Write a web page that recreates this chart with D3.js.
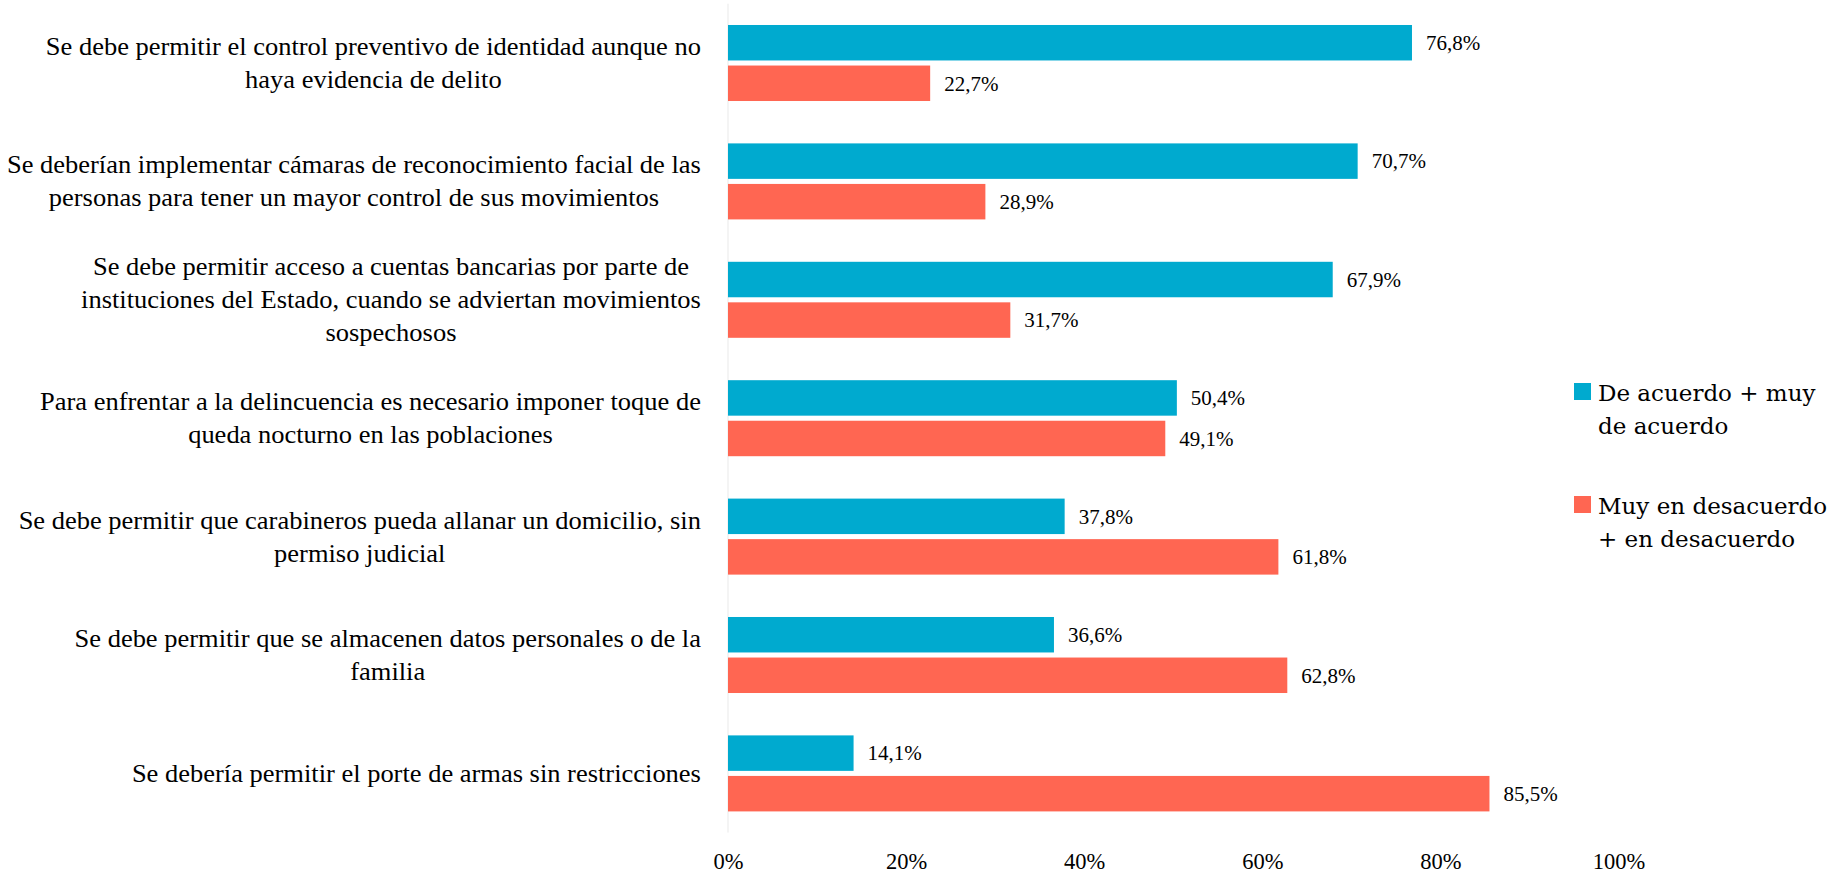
<!DOCTYPE html>
<html>
<head>
<meta charset="utf-8">
<script src="https://cdn.jsdelivr.net/npm/d3@7"></script>
<style>
  html, body { margin: 0; padding: 0; background: #fff; }
  svg { display: block; }
</style>
</head>
<body>
<svg id="chart" width="1835" height="874"></svg>
<script>
// Statement labels, one array entry per printed line
const categories = [
  ["Se debe permitir el control preventivo de identidad aunque no", "haya evidencia de delito"],
  ["Se deberían implementar cámaras de reconocimiento facial de las", "personas para tener un mayor control de sus movimientos"],
  ["Se debe permitir acceso a cuentas bancarias por parte de", "instituciones del Estado, cuando se adviertan movimientos", "sospechosos"],
  ["Para enfrentar a la delincuencia es necesario imponer toque de", "queda nocturno en las poblaciones"],
  ["Se debe permitir que carabineros pueda allanar un domicilio, sin", "permiso judicial"],
  ["Se debe permitir que se almacenen datos personales o de la", "familia"],
  ["Se debería permitir el porte de armas sin restricciones"]
];
const seriesNames = [
  ["De acuerdo + muy", "de acuerdo"],
  ["Muy en desacuerdo", "+ en desacuerdo"]
];
const agreeValues = [76.8, 70.7, 67.9, 50.4, 37.8, 36.6, 14.1];
const disagreeValues = [22.7, 28.9, 31.7, 49.1, 61.8, 62.8, 85.5];
const tickValues = [0, 20, 40, 60, 80, 100];

const colors = ["#00aacf", "#ff6652"];
const serifFont = "'Liberation Serif', 'Times New Roman', serif";
const legendFont = "'DejaVu Serif', serif";

const svg = d3.select("#chart");

const keys = categories.map((c, i) => "c" + i);
const seriesKeys = ["agree", "disagree"];
const rows = keys.map((k, i) => ({ key: k, lines: categories[i], agree: agreeValues[i], disagree: disagreeValues[i] }));

const x = d3.scaleLinear().domain([0, 100]).range([728, 1618.6]);
const y0 = d3.scaleBand().domain(keys).range([3.8, 832.6]).paddingInner(0.358).paddingOuter(0.179);
const y1 = d3.scaleBand().domain(seriesKeys).range([0, y0.bandwidth()]).paddingInner(0.125);
const color = d3.scaleOrdinal().domain(seriesKeys).range(colors);

const locale = d3.formatLocale({ decimal: ",", thousands: ".", grouping: [3], currency: ["$", ""] });
const fmt = locale.format(".1f");

// Category axis line at 0%
svg.append("line")
  .attr("x1", x(0)).attr("x2", x(0))
  .attr("y1", y0.range()[0]).attr("y2", y0.range()[1])
  .attr("stroke", "#f0f0f0").attr("stroke-width", 1.5);

// Bars
const groups = svg.selectAll("g.group").data(rows).join("g")
  .attr("class", "group")
  .attr("transform", d => `translate(0,${y0(d.key)})`);

groups.selectAll("rect").data(d => seriesKeys.map(s => ({ s, v: d[s] }))).join("rect")
  .attr("x", x(0))
  .attr("y", d => y1(d.s))
  .attr("width", d => x(d.v) - x(0))
  .attr("height", y1.bandwidth())
  .attr("fill", d => color(d.s));

// Value labels
groups.selectAll("text.value").data(d => seriesKeys.map(s => ({ s, v: d[s] }))).join("text")
  .attr("class", "value")
  .attr("x", d => x(d.v) + 14)
  .attr("y", d => y1(d.s) + y1.bandwidth() / 2)
  .attr("dy", "0.35em")
  .attr("font-family", serifFont)
  .attr("font-size", 21)
  .attr("fill", "#000")
  .text(d => fmt(d.v) + "%");

// Category labels: lines centred in a block that is right-aligned to the axis gutter
const labelRight = 701;
const lineHeight = 33;
const labelStretch = 1.09;
rows.forEach(d => {
  const g = svg.append("g");
  const cy = y0(d.key) + y0.bandwidth() / 2;
  const n = d.lines.length;
  const texts = d.lines.map((line, i) => g.append("text")
    .attr("x", 0)
    .attr("y", 0)
    .attr("dy", "0.35em")
    .attr("text-anchor", "middle")
    .attr("font-family", serifFont)
    .attr("font-size", 24.3)
    .attr("fill", "#000")
    .text(line));
  const maxW = d3.max(texts, t => t.node().getComputedTextLength()) * labelStretch;
  texts.forEach((t, i) => t.attr("transform",
    `translate(${labelRight - maxW / 2},${cy + (i - (n - 1) / 2) * lineHeight}) scale(${labelStretch},1)`));
});

// Percentage axis
const xAxis = d3.axisBottom(x).tickValues(tickValues).tickSize(0).tickPadding(0)
  .tickFormat(d => d + "%");
const axisG = svg.append("g").attr("transform", "translate(0,852)").call(xAxis);
axisG.select(".domain").remove();
axisG.selectAll("text")
  .attr("font-family", serifFont)
  .attr("font-size", 22.5)
  .attr("fill", "#000")
  .attr("dy", "0.75em");

// Legend
const legendTop = [383, 496];
seriesNames.forEach((lines, i) => {
  const g = svg.append("g");
  g.append("rect")
    .attr("x", 1574).attr("y", legendTop[i])
    .attr("width", 17).attr("height", 17)
    .attr("fill", colors[i]);
  lines.forEach((line, j) => {
    g.append("text")
      .attr("x", 1598)
      .attr("y", legendTop[i] + 18 + j * lineHeight)
      .attr("font-family", legendFont)
      .attr("font-size", 23)
      .attr("fill", "#000")
      .text(line);
  });
});
</script>
</body>
</html>
